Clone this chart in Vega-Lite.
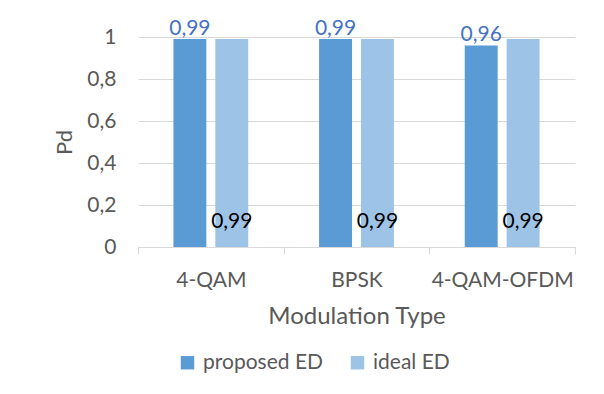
{
  "$schema": "https://vega.github.io/schema/vega-lite/v6.json",
  "width": 437,
  "height": 210,
  "autosize": "none",
  "padding": {"left": 138, "top": 37, "right": 29, "bottom": 147},
  "background": "white",
  "data": {
    "values": [
      {"modulation": "4-QAM", "series": "proposed ED", "pd": 0.99},
      {"modulation": "4-QAM", "series": "ideal ED", "pd": 0.99},
      {"modulation": "BPSK", "series": "proposed ED", "pd": 0.99},
      {"modulation": "BPSK", "series": "ideal ED", "pd": 0.99},
      {"modulation": "4-QAM-OFDM", "series": "proposed ED", "pd": 0.96},
      {"modulation": "4-QAM-OFDM", "series": "ideal ED", "pd": 0.99}
    ]
  },
  "config": {
    "font": "Lato",
    "view": {"stroke": null},
    "locale": {
      "number": {"decimal": ",", "thousands": ".", "grouping": [3], "currency": ["", " €"]}
    }
  },
  "encoding": {
    "x": {
      "field": "modulation",
      "type": "nominal",
      "sort": ["4-QAM", "BPSK", "4-QAM-OFDM"],
      "scale": {"paddingInner": 0, "paddingOuter": 0},
      "title": "Modulation Type",
      "axis": {
        "labelAngle": 0,
        "labelFontSize": 21,
        "labelColor": "#595959",
        "labelPadding": 15,
        "tickBand": "extent",
        "tickSize": 7,
        "tickColor": "#D9D9D9",
        "domainColor": "#D9D9D9",
        "domainWidth": 1,
        "grid": false,
        "titleFontSize": 24,
        "titleFontWeight": "normal",
        "titleColor": "#595959",
        "titlePadding": 14
      }
    },
    "xOffset": {
      "field": "series",
      "type": "nominal",
      "sort": ["proposed ED", "ideal ED"],
      "scale": {"paddingInner": 0.214, "paddingOuter": 0.845}
    }
  },
  "layer": [
    {
      "mark": {"type": "bar"},
      "encoding": {
        "y": {
          "field": "pd",
          "type": "quantitative",
          "scale": {"domain": [0, 1], "nice": false},
          "title": "Pd",
          "axis": {
            "values": [0, 0.2, 0.4, 0.6, 0.8, 1],
            "format": "~g",
            "domain": false,
            "ticks": false,
            "grid": true,
            "gridColor": "#D9D9D9",
            "labelFontSize": 21,
            "labelColor": "#595959",
            "labelPadding": 22,
            "titleFontSize": 22,
            "titleFontWeight": "normal",
            "titleColor": "#595959",
            "titlePadding": 10
          }
        },
        "color": {
          "field": "series",
          "type": "nominal",
          "sort": ["proposed ED", "ideal ED"],
          "scale": {"domain": ["proposed ED", "ideal ED"], "range": ["#5B9BD5", "#9DC3E6"]},
          "legend": {
            "title": null,
            "orient": "none",
            "direction": "horizontal",
            "legendX": 39,
            "legendY": 315,
            "symbolType": "square",
            "symbolSize": 180,
            "symbolStrokeWidth": 0,
            "symbolOpacity": 1,
            "labelFontSize": 21,
            "labelColor": "#595959",
            "labelOffset": 5,
            "columnPadding": 24
          }
        }
      }
    },
    {
      "transform": [{"filter": "datum.series === 'proposed ED'"}],
      "mark": {"type": "text", "baseline": "alphabetic", "dy": -4, "fontSize": 21, "color": "#4472C4"},
      "encoding": {
        "y": {"field": "pd", "type": "quantitative"},
        "text": {"field": "pd", "type": "quantitative", "format": ".2f"}
      }
    },
    {
      "transform": [{"filter": "datum.series === 'ideal ED'"}],
      "mark": {"type": "text", "baseline": "alphabetic", "dy": -19, "fontSize": 21, "color": "#000000"},
      "encoding": {
        "y": {"datum": 0, "type": "quantitative"},
        "text": {"field": "pd", "type": "quantitative", "format": ".2f"}
      }
    }
  ]
}
